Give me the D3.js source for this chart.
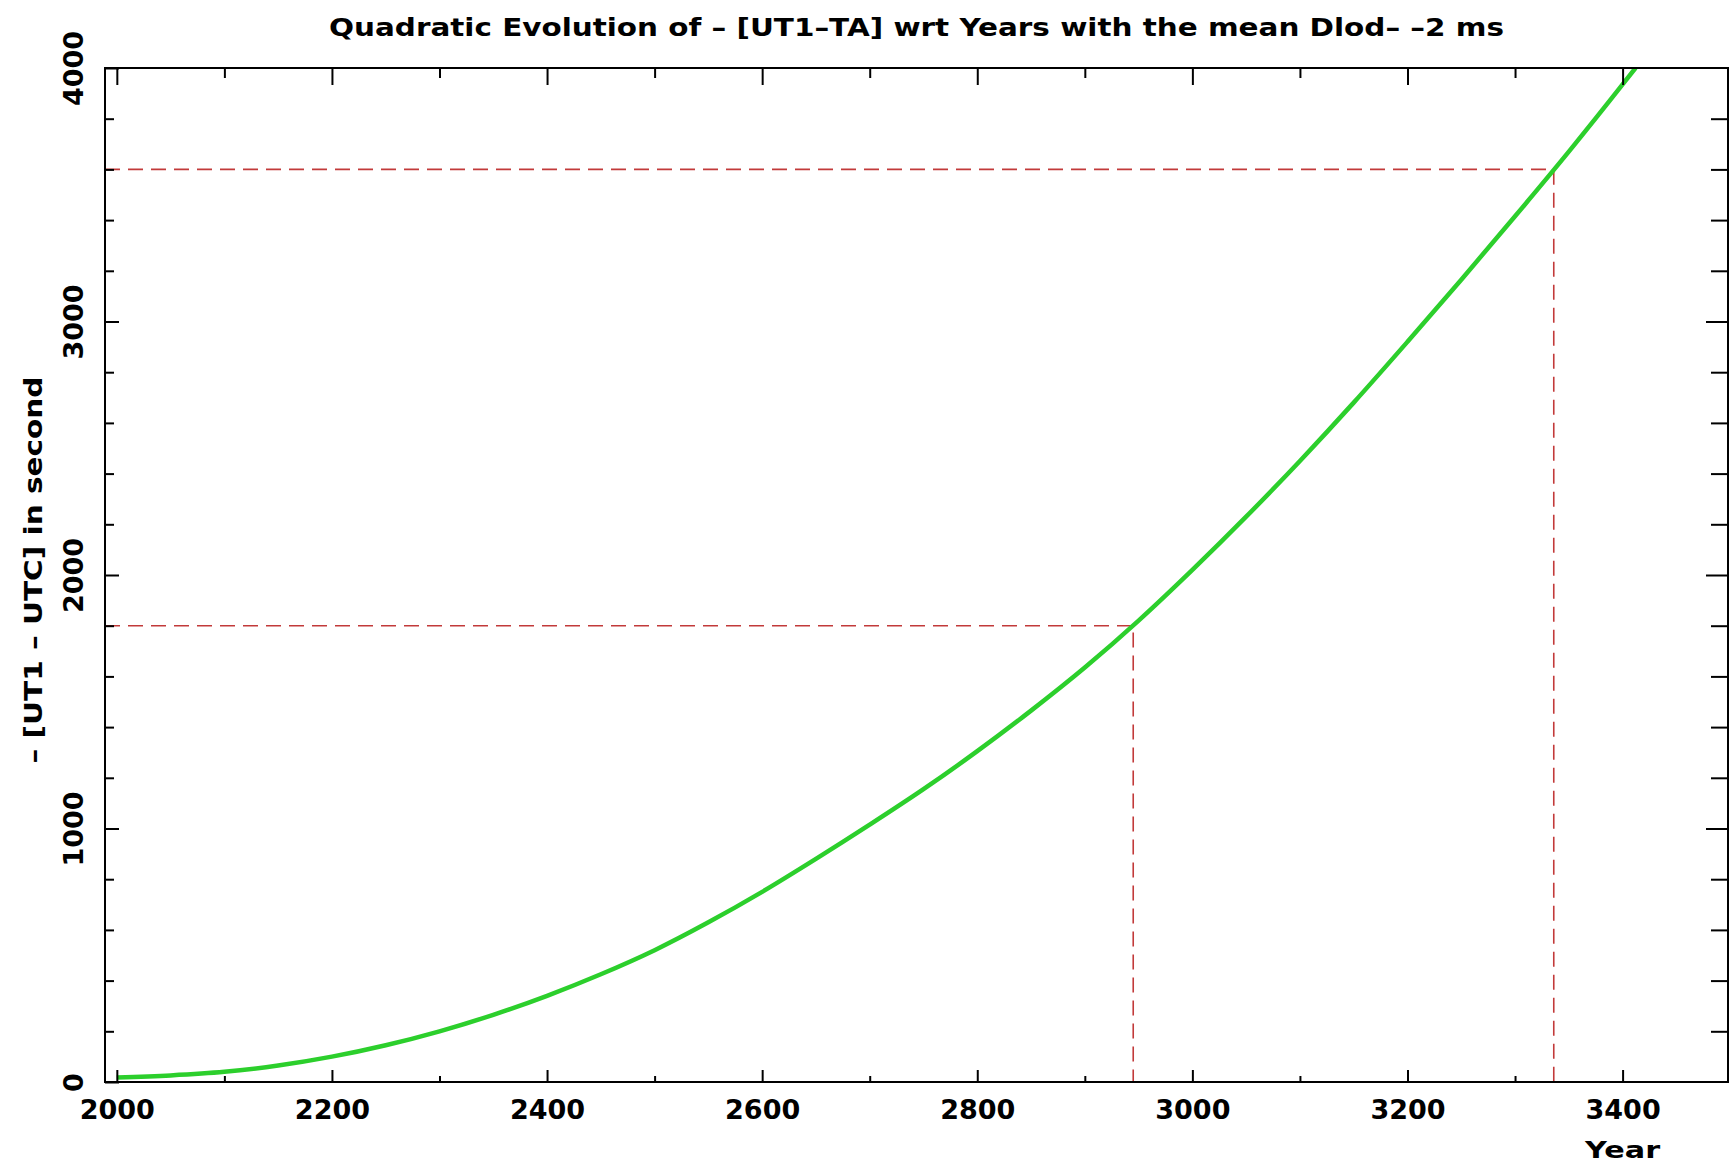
<!DOCTYPE html>
<html>
<head>
<meta charset="utf-8">
<script src="https://cdn.jsdelivr.net/npm/d3@7"></script>
<style>
  html, body { margin: 0; padding: 0; background: #ffffff; }
  svg { display: block; }
  text { font-family: "DejaVu Sans", sans-serif; font-weight: bold; fill: #000; }
</style>
</head>
<body>
<svg id="chart" width="1735" height="1166"></svg>
<script>
// ---- data ----
const years = [2000, 2050, 2100, 2150, 2200, 2250, 2300, 2350, 2400, 2450, 2500, 2550, 2600,
               2650, 2700, 2750, 2800, 2850, 2900, 2950, 3000, 3050, 3100, 3150, 3200,
               3250, 3300, 3350, 3400, 3412];
const seconds = [18, 26, 40, 65, 100, 145, 200, 265, 340, 425, 520, 630, 750,
                 880, 1015, 1155, 1305, 1465, 1635, 1820, 2020, 2230, 2450, 2680, 2920,
                 3165, 3415, 3670, 3935, 4000];
const markYears = [2945, 3336];
const markValues = [1800, 3600];
const xMajorTicks = [2000, 2200, 2400, 2600, 2800, 3000, 3200, 3400];
const xMinorTicks = [2100, 2300, 2500, 2700, 2900, 3100, 3300];
const yMajorTicks = [0, 1000, 2000, 3000, 4000];
const yMinorTicks = [200, 400, 600, 800, 1200, 1400, 1600, 1800, 2200, 2400, 2600, 2800,
                     3200, 3400, 3600, 3800];
const titleText = "Quadratic Evolution of \u2013 [UT1\u2013TA] wrt Years with the mean Dlod\u2013 \u20132 ms";
const yLabelText = "\u2013 [UT1 \u2013 UTC] in second";
const xLabelText = "Year";

// ---- layout ----
const svg = d3.select("#chart");
const pL = 105, pR = 1728, pT = 68, pB = 1082;
const x = d3.scaleLinear().domain([1989, 3498]).range([pL, pR]);
const y = d3.scaleLinear().domain([0, 4000]).range([pB, pT]);

// clip
svg.append("defs").append("clipPath").attr("id", "clip")
  .append("rect").attr("x", pL).attr("y", pT).attr("width", pR - pL).attr("height", pB - pT);

// red dashed guide lines
markYears.forEach((yr, i) => {
  const v = markValues[i];
  svg.append("path")
    .attr("d", d3.line()([[x(1989), y(v)], [x(yr), y(v)], [x(yr), y(0)]]))
    .attr("fill", "none")
    .attr("stroke", "#c23a3a")
    .attr("stroke-width", 1.6)
    .attr("stroke-dasharray", "15,8");
});

// curve
const line = d3.line().x((d, i) => x(years[i])).y(d => y(d)).curve(d3.curveMonotoneX);
svg.append("path")
  .datum(seconds)
  .attr("clip-path", "url(#clip)")
  .attr("d", line)
  .attr("fill", "none")
  .attr("stroke", "#2ccf2c")
  .attr("stroke-width", 4.5)
  .attr("stroke-linejoin", "round");

function styleAxis(g) {
  g.select(".domain").remove();
  g.selectAll(".tick line").attr("stroke", "#000").attr("stroke-width", 2);
}

// bottom axis
svg.append("g").attr("transform", `translate(0,${pB})`)
  .call(d3.axisBottom(x).tickValues(xMinorTicks).tickSize(-6).tickFormat(""))
  .call(styleAxis);
const gx = svg.append("g").attr("transform", `translate(0,${pB})`)
  .call(d3.axisBottom(x).tickValues(xMajorTicks).tickSize(-12).tickPadding(18).tickFormat(d3.format("d")))
  .call(styleAxis);
gx.selectAll(".tick text").style("font-size", "27px");
gx.attr("font-family", null).attr("font-size", null);

// top axis
svg.append("g").attr("transform", `translate(0,${pT})`)
  .call(d3.axisTop(x).tickValues(xMinorTicks).tickSize(-10).tickFormat(""))
  .call(styleAxis);
svg.append("g").attr("transform", `translate(0,${pT})`)
  .call(d3.axisTop(x).tickValues(xMajorTicks).tickSize(-17).tickFormat(""))
  .call(styleAxis);

// left axis
svg.append("g").attr("transform", `translate(${pL},0)`)
  .call(d3.axisLeft(y).tickValues(yMinorTicks).tickSize(-9).tickFormat(""))
  .call(styleAxis);
const gy = svg.append("g").attr("transform", `translate(${pL},0)`)
  .call(d3.axisLeft(y).tickValues(yMajorTicks).tickSize(-14).tickFormat(d3.format("d")))
  .call(styleAxis);
gy.attr("font-family", null).attr("font-size", null);
gy.selectAll(".tick text")
  .attr("x", null).attr("dy", null)
  .attr("transform", "translate(-32,0) rotate(-90)")
  .attr("text-anchor", "middle")
  .attr("dominant-baseline", "central")
  .style("font-size", "27px");

// right axis
svg.append("g").attr("transform", `translate(${pR},0)`)
  .call(d3.axisRight(y).tickValues(yMinorTicks).tickSize(-17).tickFormat(""))
  .call(styleAxis);
svg.append("g").attr("transform", `translate(${pR},0)`)
  .call(d3.axisRight(y).tickValues(yMajorTicks.filter(v => v > 0 && v < 4000)).tickSize(-22).tickFormat(""))
  .call(styleAxis);

// frame
svg.append("rect")
  .attr("x", pL).attr("y", pT)
  .attr("width", pR - pL).attr("height", pB - pT)
  .attr("fill", "none").attr("stroke", "#000").attr("stroke-width", 2);

// title
svg.append("text")
  .attr("x", (pL + pR) / 2).attr("y", 36)
  .attr("text-anchor", "middle")
  .attr("textLength", 1175).attr("lengthAdjust", "spacingAndGlyphs")
  .style("font-size", "25px")
  .text(titleText);

// y label
svg.append("text")
  .attr("transform", `translate(42,${(pT + pB) / 2 - 5}) rotate(-90)`)
  .attr("text-anchor", "middle")
  .attr("textLength", 387).attr("lengthAdjust", "spacingAndGlyphs")
  .style("font-size", "24px")
  .text(yLabelText);

// x label
svg.append("text")
  .attr("x", x(3400)).attr("y", 1158)
  .attr("text-anchor", "middle")
  .attr("textLength", 75).attr("lengthAdjust", "spacingAndGlyphs")
  .style("font-size", "23px")
  .text(xLabelText);
</script>
</body>
</html>
